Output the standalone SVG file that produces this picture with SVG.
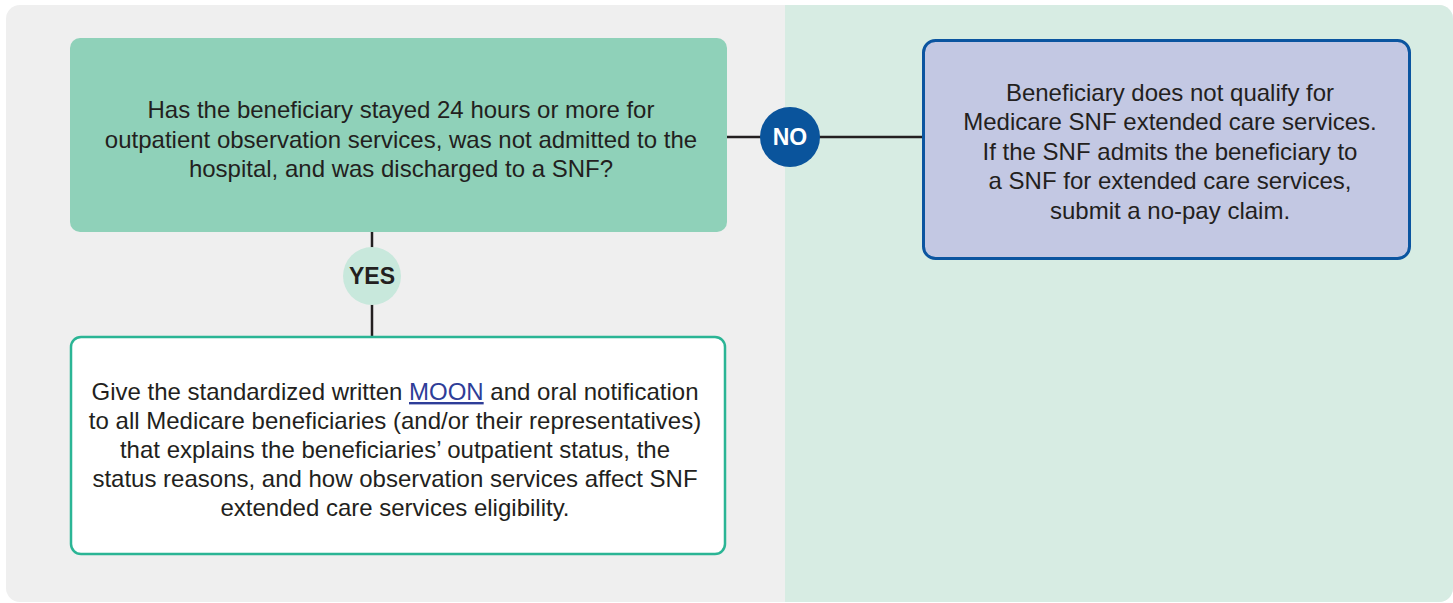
<svg xmlns="http://www.w3.org/2000/svg" width="1453" height="603" viewBox="0 0 1453 603">
<style>
.t{font-family:"Liberation Sans",Arial,sans-serif;font-size:24px;fill:#231f20;text-anchor:middle}
.c{stroke:#231f20;stroke-width:2.5;fill:none}
.lbl{font-family:"Liberation Sans",Arial,sans-serif;font-size:23px;font-weight:bold;text-anchor:middle}
</style>
<defs>
<clipPath id="bgclip"><rect x="6" y="5" width="1447" height="597" rx="14"/></clipPath>
</defs>
<g id="background" clip-path="url(#bgclip)">
<rect x="6" y="5" width="1447" height="597" fill="#efefef"/>
<rect x="785" y="5" width="668" height="597" fill="#d7ece3"/>
</g>
<g id="connectors">
<line class="c" x1="727" y1="137" x2="922" y2="137"/>
<line class="c" x1="372" y1="232" x2="372" y2="336"/>
</g>
<g id="question">
<rect x="70" y="38" width="657" height="194" rx="10" fill="#8fd1b9"/>
<text class="t" x="401" y="118">Has the beneficiary stayed 24 hours or more for</text>
<text class="t" x="401" y="147.5">outpatient observation services, was not admitted to the</text>
<text class="t" x="401" y="177">hospital, and was discharged to a SNF?</text>
</g>
<g id="no-label">
<circle cx="790" cy="137" r="30" fill="#0a549c"/>
<text class="lbl" x="790" y="145" fill="#ffffff">NO</text>
</g>
<g id="yes-label">
<circle cx="372" cy="276" r="29" fill="#c8e8dc"/>
<text class="lbl" x="372" y="284" fill="#231f20">YES</text>
</g>
<g id="no-outcome">
<rect x="923.5" y="40.5" width="486" height="218" rx="12" fill="#c3c8e3" stroke="#0b55a0" stroke-width="3"/>
<text class="t" x="1170" y="101">Beneficiary does not qualify for</text>
<text class="t" x="1170" y="130">Medicare SNF extended care services.</text>
<text class="t" x="1170" y="159.5">If the SNF admits the beneficiary to</text>
<text class="t" x="1170" y="189">a SNF for extended care services,</text>
<text class="t" x="1170" y="218.5">submit a no-pay claim.</text>
</g>
<g id="yes-outcome">
<rect x="71" y="337" width="654" height="217" rx="10" fill="#ffffff" stroke="#2bb595" stroke-width="2.5"/>
<text class="t" x="395" y="400">Give the standardized written <tspan fill="#2e3d98" text-decoration="underline">MOON</tspan> and oral notification</text>
<text class="t" x="395" y="429">to all Medicare beneficiaries (and/or their representatives)</text>
<text class="t" x="395" y="458">that explains the beneficiaries’ outpatient status, the</text>
<text class="t" x="395" y="487">status reasons, and how observation services affect SNF</text>
<text class="t" x="395" y="516">extended care services eligibility.</text>
</g>
</svg>
